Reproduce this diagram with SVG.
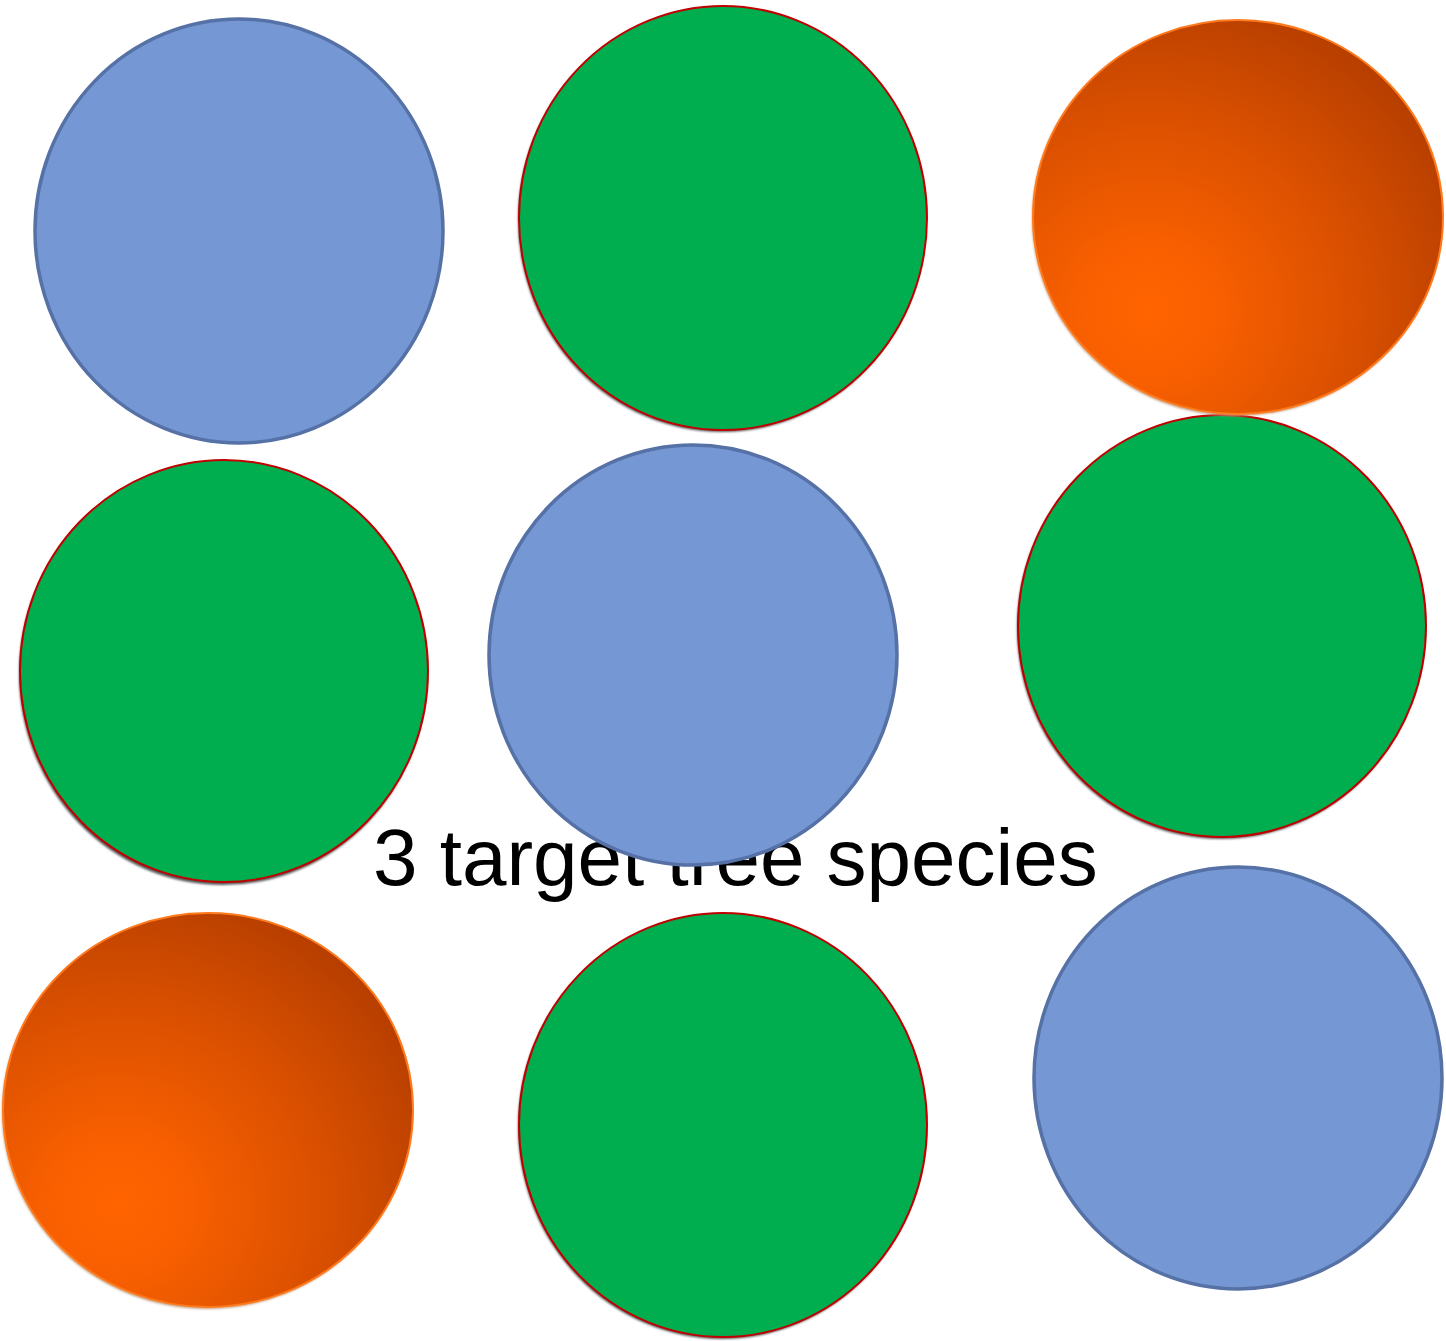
<svg xmlns="http://www.w3.org/2000/svg" width="1446" height="1341" viewBox="0 0 1446 1341">
  <defs>
    <!-- broad warm highlight toward the lower left, darkening toward the upper right -->
    <radialGradient id="orangeFill" cx="0.28" cy="0.74" r="1.0" fx="0.28" fy="0.74">
      <stop offset="0" stop-color="#FF6400"/>
      <stop offset="0.15" stop-color="#FA6000"/>
      <stop offset="0.5" stop-color="#DA5000"/>
      <stop offset="0.85" stop-color="#B43D00"/>
      <stop offset="1" stop-color="#A83800"/>
    </radialGradient>
    <filter id="soft" x="-5%" y="-5%" width="110%" height="110%">
      <feGaussianBlur stdDeviation="0.8"/>
    </filter>
  </defs>
  <style>
    .blue { fill: #7598D5; stroke: #5571A6; stroke-width: 3.5; }
    .green { fill: #00AE4F; stroke: #C00000; stroke-width: 2; }
    .green-shadow { fill: #555555; filter: url(#soft); }
    .orange { fill: url(#orangeFill); stroke: #FF7A1C; stroke-width: 2; }
    .orange-shadow { fill: #C8A080; filter: url(#soft); }
    .label { font-family: "Liberation Sans", Arial, sans-serif; font-size: 80px; fill: #000000; }
  </style>

  <rect width="1446" height="1341" fill="#FFFFFF"/>

  <g id="tree-1-1">
    <ellipse class="blue" cx="239" cy="231" rx="204" ry="212"/>
  </g>
  <g id="tree-1-2">
    <ellipse class="green-shadow" cx="722" cy="220" rx="204" ry="212"/>
    <ellipse class="green" cx="723" cy="218" rx="204" ry="212"/>
  </g>
  <g id="tree-2-3">
    <ellipse class="green-shadow" cx="1221" cy="628" rx="204" ry="211"/>
    <ellipse class="green" cx="1222" cy="626" rx="204" ry="211"/>
  </g>
  <g id="tree-1-3">
    <ellipse class="orange-shadow" cx="1237" cy="219" rx="205" ry="197"/>
    <ellipse class="orange" cx="1238" cy="217" rx="205" ry="197"/>
  </g>
  <g id="tree-2-1">
    <ellipse class="green-shadow" cx="223" cy="674" rx="204" ry="211"/>
    <ellipse class="green" cx="224" cy="671" rx="204" ry="211"/>
  </g>

  <g id="caption">
    <text class="label" x="373" y="885">3 target tree species</text>
  </g>

  <g id="tree-2-2">
    <ellipse class="blue" cx="693" cy="655" rx="204" ry="210"/>
  </g>
  <g id="tree-3-1">
    <ellipse class="orange-shadow" cx="207" cy="1112" rx="205" ry="197"/>
    <ellipse class="orange" cx="208" cy="1110" rx="205" ry="197"/>
  </g>
  <g id="tree-3-2">
    <ellipse class="green-shadow" cx="722" cy="1127" rx="204" ry="212"/>
    <ellipse class="green" cx="723" cy="1125" rx="204" ry="212"/>
  </g>
  <g id="tree-3-3">
    <ellipse class="blue" cx="1238" cy="1078" rx="204" ry="211"/>
  </g>

  <g id="connectors"/>
</svg>
